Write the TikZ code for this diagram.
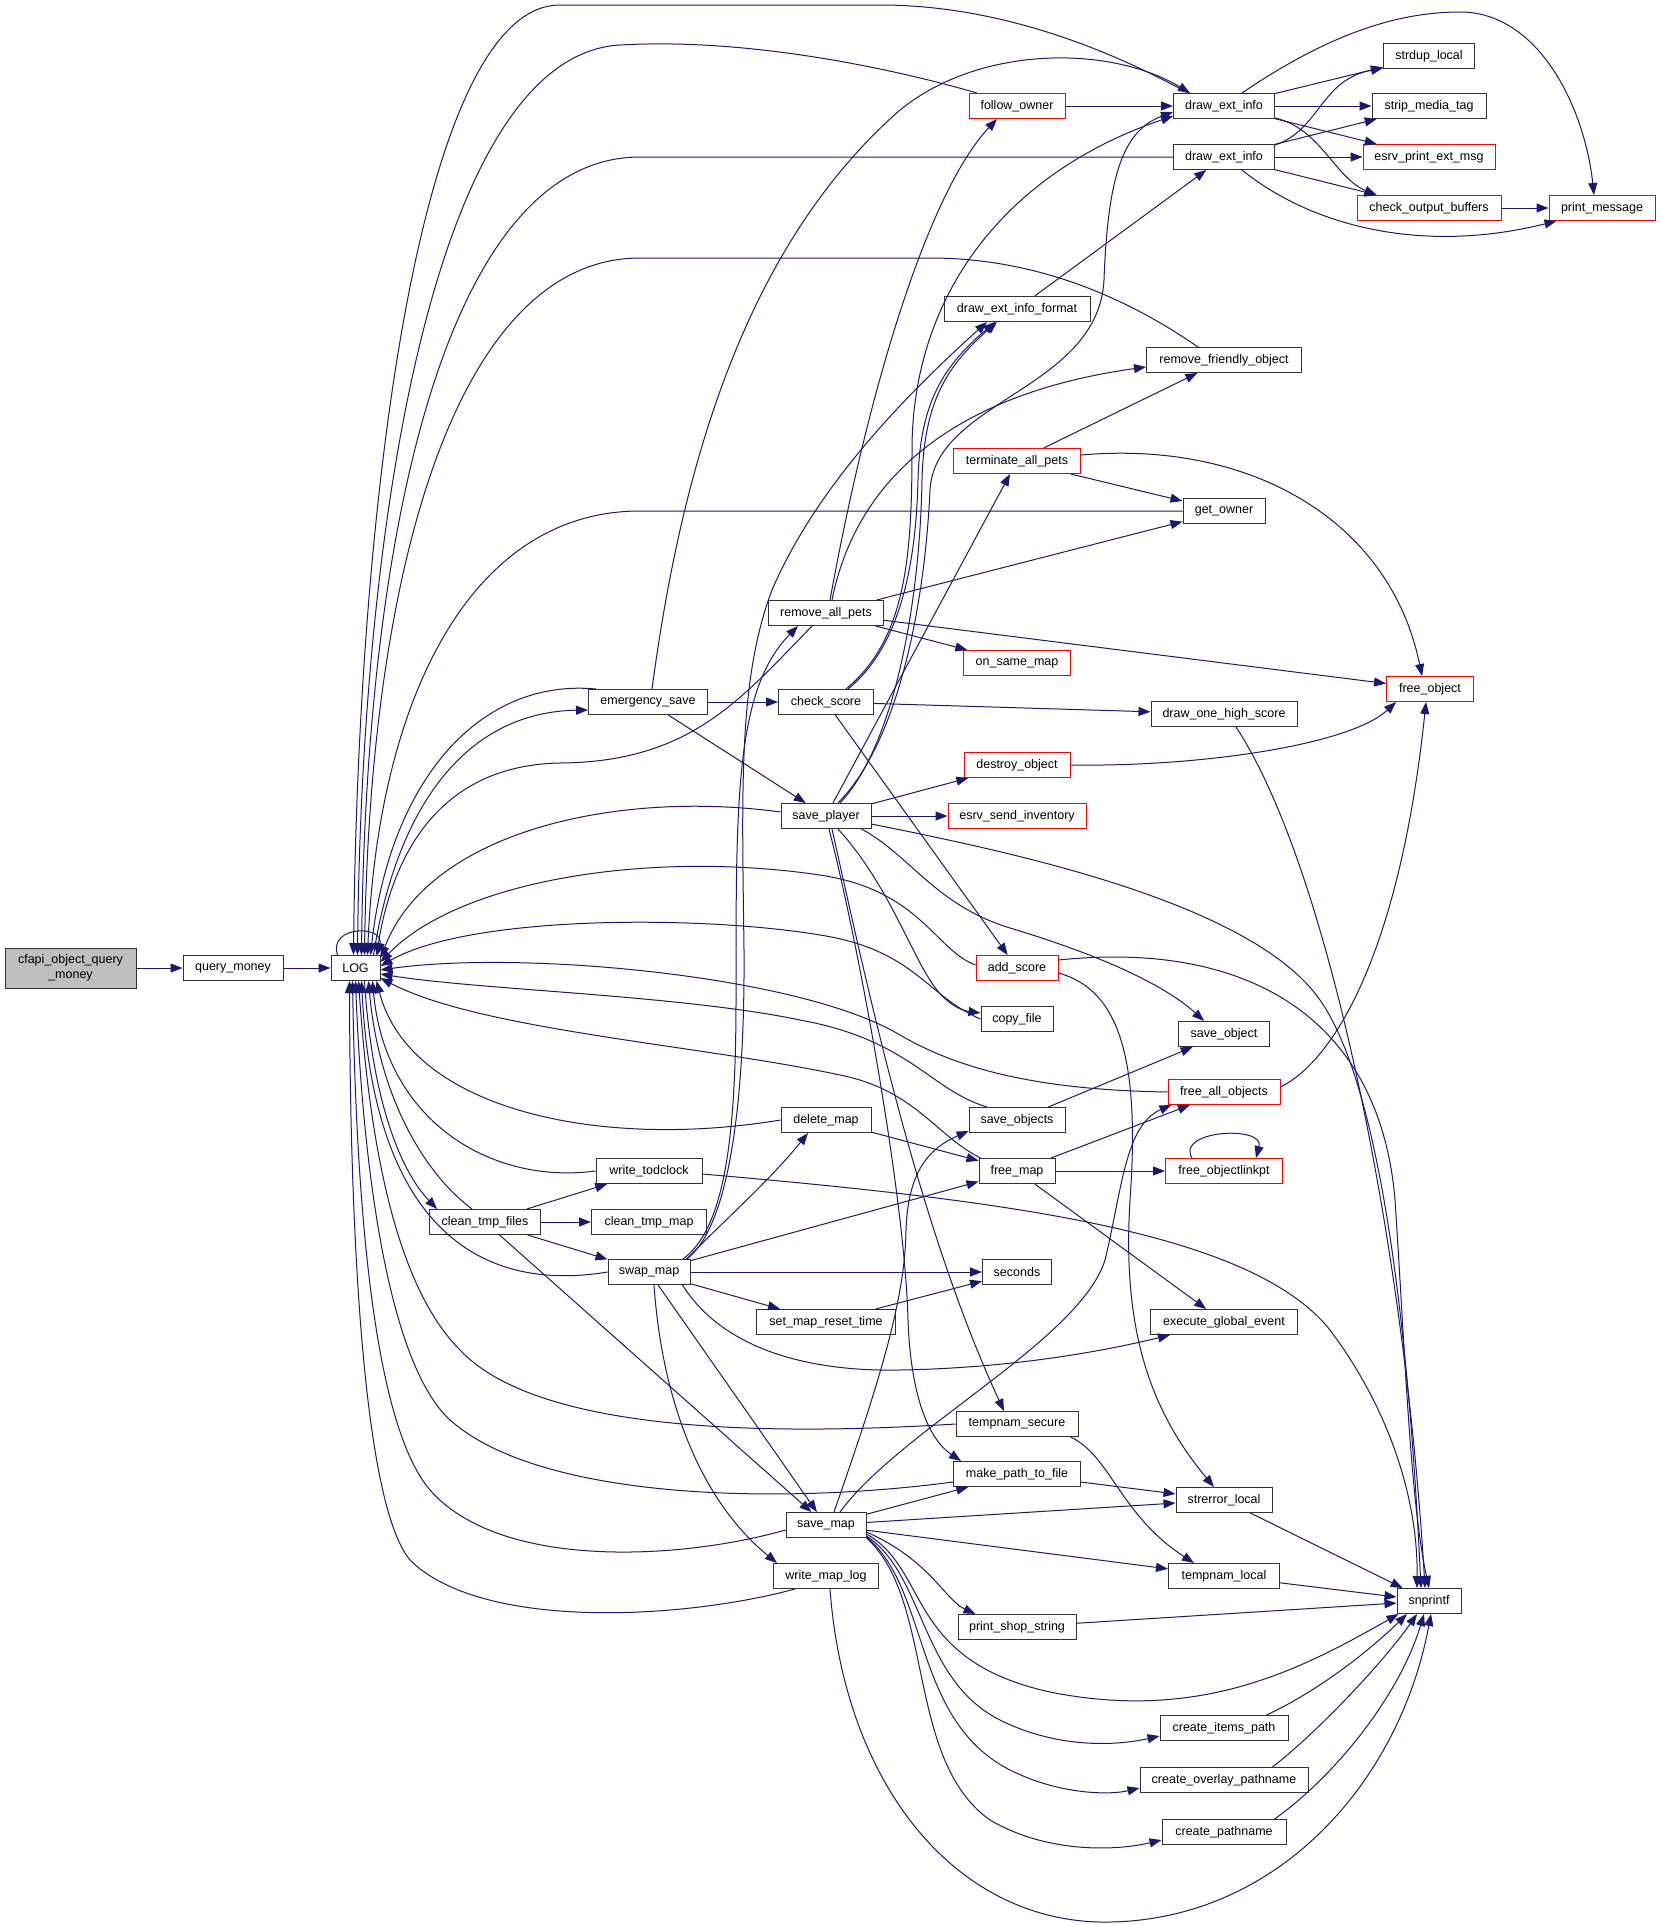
\documentclass[tikz,border=0pt]{standalone}
\usepackage{fontspec}
\setmainfont{Liberation Sans}
\usetikzlibrary{arrows.meta,calc}
\definecolor{midnight}{HTML}{191970}
\definecolor{boxgray}{HTML}{BFBFBF}
\begin{document}
\begin{tikzpicture}[x=1pt,y=-1pt,
		fn/.style={draw=black!80, fill=white, line width=1pt, minimum height=25pt, inner sep=0pt, font=\fontsize{12.5}{15}\selectfont},
		fnred/.style={fn, draw=red},
		fnroot/.style={fn, fill=boxgray, minimum height=40pt, align=center},
		calls/.style={draw=midnight, line width=1pt, -{Triangle[length=12pt,width=9pt]}}]
			\useasboundingbox (0,0) rectangle (1661,1925);
			\fill[white] (0,0) rectangle (1661,1925);

			\node[fnroot, minimum width=131] (cfapi) at (70.5,968) {cfapi\_object\_query\\\_money};
			\node[fn, minimum width=100] (qmoney) at (233,968) {query\_money};
			\node[fn, minimum width=49] (LOG) at (355.5,968) {LOG};
			\node[fn, minimum width=111] (cleantmpfiles) at (485,1222) {clean\_tmp\_files};

			\node[fn, minimum width=119] (emergencysave) at (648,702) {emergency\_save};
			\node[fn, minimum width=106] (writetodclock) at (649,1171) {write\_todclock};
			\node[fn, minimum width=115] (cleantmpmap) at (649,1222) {clean\_tmp\_map};
			\node[fn, minimum width=82] (swapmap) at (649,1272) {swap\_map};

			\node[fn, minimum width=115] (removeallpets) at (826,613) {remove\_all\_pets};
			\node[fn, minimum width=95] (checkscore) at (826,702) {check\_score};
			\node[fn, minimum width=90] (saveplayer) at (826,816) {save\_player};
			\node[fn, minimum width=90] (deletemap) at (826,1120) {delete\_map};
			\node[fn, minimum width=139] (setmapresettime) at (826,1322) {set\_map\_reset\_time};
			\node[fn, minimum width=80] (savemap) at (826,1525) {save\_map};
			\node[fn, minimum width=105] (writemaplog) at (826,1576) {write\_map\_log};

			\node[fnred, minimum width=96] (followowner) at (1017,106) {follow\_owner};
			\node[fn, minimum width=146] (dxformat) at (1017,309) {draw\_ext\_info\_format};
			\node[fnred, minimum width=127] (terminateallpets) at (1017,461) {terminate\_all\_pets};
			\node[fnred, minimum width=107] (onsamemap) at (1017,663) {on\_same\_map};
			\node[fnred, minimum width=106] (destroyobject) at (1017,765) {destroy\_object};
			\node[fnred, minimum width=138] (esrvsendinv) at (1017,816) {esrv\_send\_inventory};
			\node[fnred, minimum width=82] (addscore) at (1017,968) {add\_score};
			\node[fn, minimum width=72] (copyfile) at (1017,1019) {copy\_file};
			\node[fn, minimum width=96] (saveobjects) at (1017,1120) {save\_objects};
			\node[fn, minimum width=76] (freemap) at (1017,1171) {free\_map};
			\node[fn, minimum width=69] (seconds) at (1017,1272) {seconds};
			\node[fn, minimum width=122] (tempnamsecure) at (1017,1424) {tempnam\_secure};
			\node[fn, minimum width=127] (makepath) at (1017,1474) {make\_path\_to\_file};
			\node[fn, minimum width=118] (printshop) at (1017,1627) {print\_shop\_string};

			\node[fn, minimum width=101] (dei1) at (1224,106) {draw\_ext\_info};
			\node[fn, minimum width=101] (dei2) at (1224,157) {draw\_ext\_info};
			\node[fn, minimum width=155] (rfo) at (1224,360) {remove\_friendly\_object};
			\node[fn, minimum width=82] (getowner) at (1224,511) {get\_owner};
			\node[fn, minimum width=146] (drawonehs) at (1224,714) {draw\_one\_high\_score};
			\node[fn, minimum width=91] (saveobject) at (1224,1034) {save\_object};
			\node[fnred, minimum width=112] (freeallobjects) at (1224,1092) {free\_all\_objects};
			\node[fnred, minimum width=117] (freeobjlink) at (1224,1171) {free\_objectlinkpt};
			\node[fn, minimum width=147] (execglobal) at (1224,1322) {execute\_global\_event};
			\node[fn, minimum width=96] (strerror) at (1224,1500) {strerror\_local};
			\node[fn, minimum width=111] (tempnamlocal) at (1224,1576) {tempnam\_local};
			\node[fn, minimum width=128] (createitems) at (1224,1728) {create\_items\_path};
			\node[fn, minimum width=168] (createoverlay) at (1224,1780) {create\_overlay\_pathname};
			\node[fn, minimum width=124] (createpath) at (1224,1832) {create\_pathname};

			\node[fn, minimum width=91] (strdup) at (1429,56) {strdup\_local};
			\node[fn, minimum width=114] (stripmedia) at (1429,106) {strip\_media\_tag};
			\node[fnred, minimum width=132] (esrvprint) at (1429,157) {esrv\_print\_ext\_msg};
			\node[fnred, minimum width=144] (checkout) at (1429,208) {check\_output\_buffers};
			\node[fnred, minimum width=87] (freeobject) at (1430,689) {free\_object};
			\node[fn, minimum width=64] (snprintf) at (1429,1601) {snprintf};
			\node[fnred, minimum width=106] (printmsg) at (1602,208) {print\_message};

			\draw[calls] (cfapi) -- (qmoney);
			\draw[calls] (qmoney) -- (LOG);
			\draw[calls] ($(LOG.north)+(-18,0)$) .. controls (328,925) and (384,925) .. ($(LOG.north east)+(-3,0)$);

			\draw[calls] ($(dei1.north)+(-36,0)$) .. controls (1110,50) and (1000,5) .. (880,5) -- (560,5) .. controls (420,5) and (358,500) .. ($(LOG.north)+(-2,0)$);
			\draw[calls] ($(followowner.north)+(-40,0)$) .. controls (880,65) and (740,38) .. (620,45) .. controls (440,55) and (362,500) .. ($(LOG.north)+(2,0)$);
			\draw[calls] (dei2.west) -- (640,157) .. controls (450,157) and (366,520) .. ($(LOG.north)+(6,0)$);
			\draw[calls] ($(rfo.north)+(-26,0)$) .. controls (1130,300) and (1040,258) .. (930,258) -- (640,258) .. controls (460,258) and (370,560) .. ($(LOG.north)+(9,0)$);
			\draw[calls] (getowner.west) -- (640,511) .. controls (470,511) and (378,700) .. ($(LOG.north)+(12,0)$);
			\draw[calls] ($(emergencysave.north west)+(8,0)$) .. controls (480,678) and (390,780) .. ($(LOG.north)+(15,0)$);
			\draw[calls] ($(LOG.north)+(18,0)$) .. controls (398,800) and (470,712) .. ($(emergencysave.west)+(0,8)$);
			\draw[calls] ($(removeallpets.south)+(-14,0)$) .. controls (740,700) and (690,762) .. (560,763) .. controls (450,765) and (395,840) .. ($(LOG.north)+(21,0)$);
			\draw[calls] ($(saveplayer.west)+(0,-4)$) .. controls (620,790) and (430,830) .. ($(LOG.east)+(0,-10)$);
			\draw[calls] ($(addscore.west)+(0,-3)$) .. controls (935,950) and (920,890) .. (820,875) .. controls (650,850) and (460,880) .. ($(LOG.east)+(0,-6)$);
			\draw[calls] (copyfile.west) .. controls (925,995) and (915,950) .. (820,935) .. controls (700,915) and (470,915) .. ($(LOG.east)+(0,-2)$);
			\draw[calls] (freeallobjects.west) .. controls (1040,1090) and (960,1070) .. (900,1035) .. controls (800,975) and (520,950) .. ($(LOG.east)+(0,2)$);
			\draw[calls] ($(saveobjects.north)+(-30,0)$) .. controls (930,1090) and (910,1040) .. (800,1020) .. controls (680,995) and (480,990) .. ($(LOG.east)+(0,6)$);
			\draw[calls] ($(freemap.north west)+(2,0)$) .. controls (935,1135) and (915,1090) .. (840,1075) .. controls (700,1045) and (480,1030) .. ($(LOG.east)+(0,10)$);
			\draw[calls] (deletemap.west) .. controls (600,1150) and (410,1110) .. ($(LOG.south)+(21,0)$);
			\draw[calls] (writetodclock.west) .. controls (490,1185) and (385,1120) .. ($(LOG.south)+(17,0)$);
			\draw[calls] ($(cleantmpfiles.north)+(-13,0)$) .. controls (420,1170) and (378,1090) .. ($(LOG.south)+(13,0)$);
			\draw[calls] ($(LOG.south)+(9,0)$) .. controls (372,1100) and (400,1170) .. ($(cleantmpfiles.north west)+(8,0)$);
			\draw[calls] (swapmap.west) .. controls (500,1290) and (375,1250) .. ($(LOG.south)+(6,0)$);
			\draw[calls] (tempnamsecure.west) .. controls (780,1435) and (540,1435) .. (460,1350) .. controls (390,1280) and (368,1120) .. ($(LOG.south)+(3,0)$);
			\draw[calls] ($(makepath.west)+(0,8)$) .. controls (780,1505) and (540,1500) .. (450,1420) .. controls (385,1360) and (362,1150) .. (LOG.south);
			\draw[calls] ($(savemap.west)+(0,5)$) .. controls (680,1560) and (500,1570) .. (430,1490) .. controls (370,1420) and (356,1180) .. ($(LOG.south)+(-3,0)$);
			\draw[calls] ($(writemaplog.south west)+(22,0)$) .. controls (680,1620) and (480,1630) .. (410,1560) .. controls (360,1500) and (350,1200) .. ($(LOG.south)+(-6,0)$);

			\draw[calls] (followowner) -- (dei1);
			\draw[calls] (dei1) -- (strdup);
			\draw[calls] (dei1) -- (stripmedia);
			\draw[calls] (dei1) -- (esrvprint);
			\draw[calls] ($(dei1.south east)+(0,-1)$) .. controls (1320,128) and (1335,178) .. ($(checkout.north west)+(20,0)$);
			\draw[calls] ($(dei1.north)+(18,0)$) .. controls (1320,40) and (1390,12) .. (1460,12) .. controls (1540,12) and (1585,110) .. ($(printmsg.north)+(-8,0)$);
			\draw[calls] ($(dei2.north east)+(0,1)$) .. controls (1320,130) and (1320,80) .. ($(strdup.south west)+(0,-1)$);
			\draw[calls] (dei2) -- (stripmedia);
			\draw[calls] (dei2) -- (esrvprint);
			\draw[calls] (dei2) -- (checkout);
			\draw[calls] ($(dei2.south)+(18,0)$) .. controls (1310,225) and (1420,255) .. ($(printmsg.south west)+(8,0)$);
			\draw[calls] (checkout) -- (printmsg);
			\draw[calls] (dxformat) -- (dei2);

			\draw[calls] ($(emergencysave.north)+(4,0)$) .. controls (680,480) and (740,250) .. (900,110) .. controls (980,45) and (1110,45) .. ($(dei1.north)+(-34,0)$);
			\draw[calls] (emergencysave) -- (checkscore);
			\draw[calls] (emergencysave) -- (saveplayer);
			\draw[calls] ($(checkscore.north)+(20,0)$) .. controls (905,640) and (912,560) .. (912,450) .. controls (912,300) and (1000,175) .. ($(dei1.west)+(0,10)$);
			\draw[calls] ($(checkscore.north)+(22,0)$) .. controls (902,645) and (916,560) .. (918,480) .. controls (920,400) and (945,365) .. ($(dxformat.south)+(-22,0)$);
			\draw[calls] (checkscore) -- (addscore);
			\draw[calls] (checkscore) -- (drawonehs);

			\draw[calls] ($(removeallpets.north)+(4,0)$) .. controls (870,380) and (930,190) .. ($(followowner.south)+(-20,0)$);
			\draw[calls] ($(removeallpets.north)+(6,0)$) .. controls (860,460) and (980,390) .. ($(rfo.west)+(0,7)$);
			\draw[calls] (removeallpets) -- (getowner);
			\draw[calls] (removeallpets) -- (onsamemap);
			\draw[calls] (removeallpets) -- (freeobject);

			\draw[calls] ($(saveplayer.north)+(12,0)$) .. controls (900,740) and (925,600) .. (930,490) .. controls (935,400) and (1098,390) .. (1104,280) .. controls (1108,170) and (1125,130) .. ($(dei1.west)+(0,6)$);
			\draw[calls] ($(saveplayer.north)+(14,0)$) .. controls (895,745) and (920,600) .. (922,480) .. controls (924,400) and (948,365) .. ($(dxformat.south)+(-20,0)$);
			\draw[calls] (saveplayer) -- (terminateallpets);
			\draw[calls] (saveplayer) -- (destroyobject);
			\draw[calls] (saveplayer) -- (esrvsendinv);
			\draw[calls] ($(saveplayer.south)+(12,0)$) .. controls (885,880) and (910,950) .. (930,980) .. controls (942,1000) and (958,1010) .. ($(copyfile.west)+(0,-6)$);
			\draw[calls] ($(saveplayer.south east)+(-10,0)$) .. controls (910,855) and (935,905) .. (1010,928) .. controls (1100,955) and (1165,985) .. ($(saveobject.north)+(-20,0)$);
			\draw[calls] ($(saveplayer.east)+(0,8)$) .. controls (1000,850) and (1250,900) .. (1320,1000) .. controls (1390,1100) and (1412,1400) .. ($(snprintf.north)+(-8,0)$);
			\draw[calls] ($(saveplayer.south)+(3,0)$) .. controls (860,950) and (905,1200) .. (908,1320) .. controls (911,1400) and (930,1440) .. ($(makepath.north west)+(8,0)$);
			\draw[calls] ($(saveplayer.south)+(6,0)$) .. controls (870,1000) and (920,1230) .. ($(tempnamsecure.north)+(-13,0)$);

			\draw[calls] (terminateallpets) -- (rfo);
			\draw[calls] (terminateallpets) -- (getowner);
			\draw[calls] ($(terminateallpets.east)+(0,-6)$) .. controls (1250,440) and (1390,520) .. ($(freeobject.north)+(-8,0)$);
			\draw[calls] (destroyobject.east) .. controls (1200,767) and (1350,745) .. ($(freeobject.south west)+(10,0)$);
			\draw[calls] ($(drawonehs.south)+(12,0)$) .. controls (1330,870) and (1405,1250) .. ($(snprintf.north)+(-4,0)$);
			\draw[calls] ($(addscore.east)+(0,-8)$) .. controls (1250,940) and (1380,1020) .. (1395,1200) .. controls (1405,1350) and (1410,1500) .. (snprintf.north);
			\draw[calls] ($(addscore.east)+(0,5)$) .. controls (1120,990) and (1140,1060) .. (1130,1200) .. controls (1122,1330) and (1150,1410) .. ($(strerror.north)+(-10,0)$);

			\draw[calls] (saveobjects) -- (saveobject);
			\draw[calls] (deletemap) -- (freemap);
			\draw[calls] (freemap) -- (freeallobjects);
			\draw[calls] (freemap) -- (freeobjlink);
			\draw[calls] (freemap) -- (execglobal);
			\draw[calls] ($(freeallobjects.east)+(0,-5)$) .. controls (1335,1060) and (1400,950) .. ($(freeobject.south)+(-4,0)$);
			\draw[calls] ($(freeobjlink.north)+(-32,0)$) .. controls (1175,1130) and (1265,1125) .. ($(freeobjlink.north)+(32,0)$);
			\draw[calls] ($(writetodclock.east)+(0,3)$) .. controls (1000,1200) and (1250,1230) .. (1330,1330) .. controls (1390,1410) and (1418,1500) .. ($(snprintf.north)+(-12,0)$);

			\draw[calls] (cleantmpfiles) -- (writetodclock);
			\draw[calls] (cleantmpfiles) -- (cleantmpmap);
			\draw[calls] (cleantmpfiles) -- (swapmap);
			\draw[calls] (cleantmpfiles) -- (savemap);

			\draw[calls] ($(swapmap.north)+(34,0)$) .. controls (722,1230) and (736,1150) .. (736,1000) .. controls (736,800) and (735,690) .. ($(removeallpets.south)+(-28,0)$);
			\draw[calls] ($(swapmap.north)+(38,0)$) .. controls (730,1225) and (745,1100) .. (744,950) .. controls (742,790) and (738,680) .. (772,590) .. controls (815,490) and (900,400) .. ($(dxformat.south)+(-30,0)$);
			\draw[calls] ($(swapmap.north east)+(-4,0)$) .. controls (730,1215) and (770,1180) .. ($(deletemap.south)+(-18,0)$);
			\draw[calls] (swapmap) -- (freemap);
			\draw[calls] (swapmap) -- (seconds);
			\draw[calls] (swapmap) -- (setmapresettime);
			\draw[calls] (swapmap) -- (savemap);
			\draw[calls] ($(swapmap.south east)+(-8,0)$) .. controls (720,1345) and (800,1372) .. (900,1370) .. controls (1010,1368) and (1100,1352) .. ($(execglobal.south west)+(20,0)$);
			\draw[calls] ($(swapmap.south)+(5,0)$) .. controls (662,1400) and (700,1500) .. ($(writemaplog.north west)+(4,0)$);
			\draw[calls] (setmapresettime) -- (seconds);

			\draw[calls] ($(tempnamsecure.south east)+(-8,0)$) .. controls (1110,1455) and (1120,1515) .. ($(tempnamlocal.north)+(-30,0)$);
			\draw[calls] (makepath) -- (strerror);
			\draw[calls] (savemap) -- (makepath);
			\draw[calls] (savemap) -- (strerror);
			\draw[calls] (savemap) -- (tempnamlocal);
			\draw[calls] ($(savemap.north)+(8,0)$) .. controls (880,1380) and (905,1300) .. (906,1230) .. controls (908,1170) and (930,1148) .. ($(saveobjects.south west)+(0,-2)$);
			\draw[calls] ($(savemap.north)+(14,0)$) .. controls (900,1430) and (1080,1340) .. (1105,1260) .. controls (1122,1190) and (1125,1125) .. ($(freeallobjects.south west)+(4,0)$);
			\draw[calls] ($(savemap.east)+(0,7)$) .. controls (930,1560) and (945,1600) .. ($(printshop.north west)+(18,0)$);
			\draw[calls] ($(savemap.east)+(0,9)$) .. controls (930,1570) and (905,1660) .. (1050,1692) .. controls (1200,1722) and (1300,1670) .. ($(snprintf.south west)+(2,0)$);
			\draw[calls] ($(savemap.south east)+(0,-2)$) .. controls (925,1575) and (920,1680) .. (1000,1720) .. controls (1060,1750) and (1120,1745) .. ($(createitems.west)+(0,8)$);
			\draw[calls] ($(savemap.south east)+(0,-1)$) .. controls (930,1590) and (912,1720) .. (1010,1770) .. controls (1060,1795) and (1110,1795) .. ($(createoverlay.west)+(0,8)$);
			\draw[calls] (savemap.south east) .. controls (935,1600) and (905,1760) .. (990,1820) .. controls (1050,1855) and (1120,1850) .. ($(createpath.west)+(0,8)$);
			\draw[calls] ($(writemaplog.south)+(4,0)$) .. controls (845,1790) and (960,1925) .. (1110,1922) .. controls (1280,1919) and (1400,1780) .. ($(snprintf.south)+(2,0)$);

			\draw[calls] (strerror) -- (snprintf);
			\draw[calls] (tempnamlocal) -- (snprintf);
			\draw[calls] (printshop) -- (snprintf);
			\draw[calls] ($(createitems.north east)+(-22,0)$) .. controls (1320,1690) and (1370,1650) .. ($(snprintf.south)+(-22,0)$);
			\draw[calls] ($(createoverlay.north east)+(-36,0)$) .. controls (1320,1730) and (1385,1660) .. ($(snprintf.south)+(-12,0)$);
			\draw[calls] ($(createpath.north east)+(-12,0)$) .. controls (1330,1780) and (1398,1700) .. ($(snprintf.south)+(-5,0)$);

		\end{tikzpicture}
\end{document}
